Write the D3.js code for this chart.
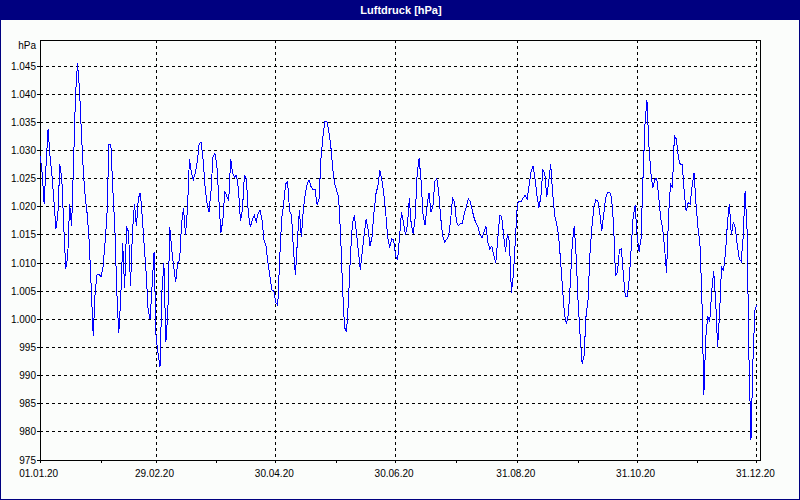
<!DOCTYPE html>
<html><head><meta charset="utf-8">
<script src="https://cdn.jsdelivr.net/npm/d3@7"></script>
<style>html,body{margin:0;padding:0;background:#fbfdfb;} svg{display:block;}</style>
</head><body><svg id="c" width="800" height="500"></svg>
<script>
const chartTitle = "Luftdruck [hPa]";
const unitLabel = "hPa";
const startDate = "2020-01-01";
// daily air pressure readings (hPa), 01.01.20 .. 31.12.20
const pressure = [
1029,1026,1020.5,1027.5,1033.8,1029,1025.6,1021,1016,1018.5,
1027.5,1025,1016.5,1009,1011,1020.5,1016.5,1028,1040,1045.5,
1041,1033,1026,1021.5,1018.5,1013.5,1005.5,997,1005,1008,
1008,1007.5,1009.3,1013.5,1018.5,1031,1031,1023,1016.5,1005,
997.5,1003.5,1013.5,1005.5,1016.5,1015.5,1006,1015.5,1020.5,1016.5,
1021.5,1022.5,1018,1013,1008,1001.5,1000,1006,1012,997,
994,991.5,1005,1010,996,1001,1016.4,1012.3,1009.3,1006.6,
1010,1010.5,1017,1019.7,1015,1019.5,1028.5,1026,1024.8,1026,
1028,1031.3,1031.4,1028.2,1023.3,1020.5,1019.1,1022.9,1028.8,1029.5,
1027.2,1021.3,1015.4,1017.5,1022.7,1021.9,1021,1028.5,1026,1025.3,
1025.6,1023,1017.5,1019.5,1025.5,1025,1018.8,1016.4,1017.6,1018.5,
1017.3,1018.8,1019.4,1017.6,1014,1013,1010,1007.7,1005.2,1005,
1003,1002.5,1011,1018,1020.5,1024,1024.5,1019.3,1018.5,1012.2,
1007.8,1014,1019.4,1014.6,1019.4,1022.3,1024.1,1024.7,1023.5,1023,
1023,1020.4,1021.4,1028.5,1032.5,1035.2,1035.2,1033.4,1030.8,1026.8,
1024,1022.9,1021.6,1015,1005.5,998.6,997.7,1003.2,1011.3,1017,
1018.5,1015.5,1012.3,1008.8,1012,1015,1017.8,1016,1013,1014.7,
1019,1022.3,1023.7,1026.5,1024.7,1022.3,1018.8,1014.6,1012.7,1014.3,
1014.2,1011.3,1010.5,1014.6,1019.1,1017.3,1015,1016.6,1021.5,1016.7,
1015.2,1018.2,1026,1028.6,1024.5,1018.5,1016.8,1020,1022.5,1019,
1020,1024.5,1025,1022.5,1018,1014.7,1013.7,1014.2,1014.8,1017.5,
1021.5,1020.8,1017.4,1016.6,1017,1017,1018.8,1020,1021.4,1021,
1019.4,1018,1017,1016.4,1015,1014.5,1015.4,1016.6,1013.6,1012.5,
1013,1011.4,1010,1014,1018.4,1018.3,1015,1012,1015.2,1013.8,
1004.7,1008,1014,1020.4,1021,1021,1021.6,1022,1021.4,1023.7,
1026.2,1027.2,1025,1022,1019.8,1021.8,1026.5,1026,1021.7,1024.5,
1027.6,1022.4,1018.5,1017.1,1014.9,1010.6,1005.6,1001,999.2,1000.8,
1006.5,1013.5,1016.5,1011,1002.8,997,992.1,993.6,1000.6,1003.4,
1011.7,1016.4,1020,1021.2,1021.1,1018.9,1015.7,1018.6,1021.6,1022.6,
1022.6,1021.6,1017,1007.8,1008.4,1012.3,1012.5,1008,1004,1004,
1007.1,1012.6,1018.2,1020.3,1015,1012,1014.3,1025,1034.5,1039,
1031,1026,1023.3,1024.8,1025.1,1021.8,1018,1016.2,1012.7,1008.2,
1018.2,1024,1023.5,1032.6,1032,1028.8,1027.5,1027.5,1022.7,1019.2,
1020.7,1020.5,1023.5,1026,1020.5,1016.3,1013.5,1004,986.5,996.9,
1000.5,999.6,1005,1008.5,1003.5,995.1,1001,1009.3,1008.7,1011.7,
1017,1020.5,1015,1017.2,1016.3,1013.3,1010.8,1010.3,1014.5,1022.8,
1016,992.7,978.5,992.5,1001.6,1002.5
];
const yTicks = [975,980,985,990,995,1000,1005,1010,1015,1020,1025,1030,1035,1040,1045];
const xTickDates = ["2020-01-01","2020-02-29","2020-04-30","2020-06-30","2020-08-31","2020-10-31","2020-12-31"];
const xMinorDates = ["2020-02-01","2020-03-31","2020-05-31","2020-07-31","2020-10-01","2020-12-01"];

const svg = d3.select("#c");
const W = 800, H = 500;
const plot = {left: 40, top: 40, right: 760, bottom: 460};
const navy = "#000080";
const font = "'Liberation Sans Narrow','Arial Narrow','Liberation Sans',Arial,sans-serif";

const parse = d3.utcParse("%Y-%m-%d");
const t0 = parse(startDate);
const tEnd = new Date(t0.getTime() + 366.6 * 86400000);
const x = d3.scaleUtc().domain([t0, tEnd]).range([40.2, plot.right]);
const y = d3.scaleLinear().domain([975, 1045]).range([460, 66]);
const px = v => Math.floor(v) + 0.5;

const de = d3.formatLocale({decimal: ",", thousands: ".", grouping: [3], currency: ["", " €"]});
const fmtY = de.format(",d");
const fmtX = d3.utcFormat("%d.%m.%y");

svg.append("rect").attr("width", W).attr("height", H).attr("fill", "#fbfdfb");
svg.append("rect").attr("x", 0).attr("y", 0).attr("width", W).attr("height", 20).attr("fill", navy);
svg.append("rect").attr("x", 0.5).attr("y", 0.5).attr("width", W - 1).attr("height", H - 1)
  .attr("fill", "none").attr("stroke", navy);
svg.append("text").attr("x", 401).attr("y", 14).attr("text-anchor", "middle")
  .attr("fill", "#fff").attr("font-family", "'Liberation Sans',Arial,sans-serif")
  .attr("font-weight", "bold").attr("font-size", 11).text(chartTitle);

const g = svg.append("g").attr("shape-rendering", "crispEdges");

// horizontal grid
g.selectAll("line.hg").data(yTicks.filter(v => v > 975)).join("line")
  .attr("x1", plot.left).attr("x2", plot.right)
  .attr("y1", d => px(y(d))).attr("y2", d => px(y(d)))
  .attr("stroke", "#000").attr("stroke-dasharray", "3,3");
// vertical grid
g.selectAll("line.vg").data(xTickDates.slice(1).map(parse)).join("line")
  .attr("y1", plot.top).attr("y2", plot.bottom)
  .attr("x1", d => px(x(d))).attr("x2", d => px(x(d)))
  .attr("stroke", "#000").attr("stroke-dasharray", "3,3");

// frame
g.append("rect").attr("x", plot.left + 0.5).attr("y", plot.top + 0.5)
  .attr("width", plot.right - plot.left).attr("height", plot.bottom - plot.top)
  .attr("fill", "none").attr("stroke", "#000");

// y ticks + labels
g.selectAll("line.yt").data(yTicks).join("line")
  .attr("x1", 37).attr("x2", plot.left)
  .attr("y1", d => px(y(d))).attr("y2", d => px(y(d))).attr("stroke", "#000");
svg.selectAll("text.yl").data(yTicks).join("text")
  .attr("x", 36).attr("y", d => y(d) + 3.6).attr("text-anchor", "end")
  .attr("font-family", font).attr("font-size", 10).attr("fill", "#000")
  .text(d => fmtY(d));
svg.append("text").attr("x", 36).attr("y", 48.5).attr("text-anchor", "end")
  .attr("font-family", font).attr("font-size", 10).attr("fill", "#000").text(unitLabel);

// x ticks + labels
g.selectAll("line.xt").data(xTickDates.concat(xMinorDates).map(parse)).join("line")
  .attr("x1", d => px(x(d))).attr("x2", d => px(x(d)))
  .attr("y1", plot.bottom).attr("y2", plot.bottom + 3).attr("stroke", "#000");
svg.selectAll("text.xl").data(xTickDates.map(parse)).join("text")
  .attr("x", d => x(d) - 1.5).attr("y", 477).attr("text-anchor", "middle")
  .attr("font-family", font).attr("font-size", 10).attr("fill", "#000")
  .text(d => fmtX(d));

// data line
const series = pressure.map((v, i) => ({date: d3.utcDay.offset(t0, i), value: v}));
const line = d3.line().x(d => x(d.date)).y(d => y(d.value));
svg.append("path").datum(series).attr("d", line)
  .attr("fill", "none").attr("stroke", "#0000ff").attr("stroke-width", 1)
  .attr("shape-rendering", "crispEdges");
</script></body></html>
